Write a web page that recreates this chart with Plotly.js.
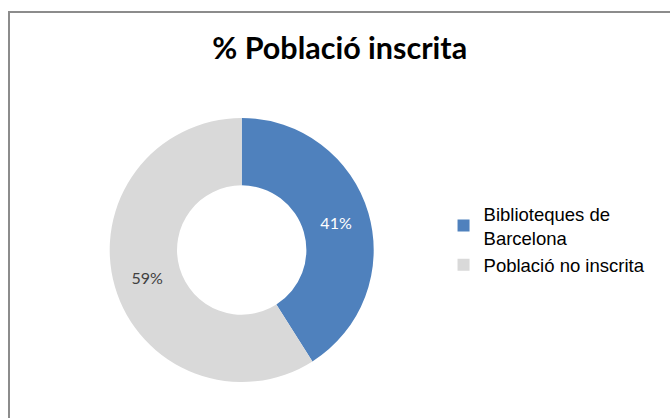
<!DOCTYPE html>
<html>
<head>
<meta charset="utf-8">
<script src="https://cdn.plot.ly/plotly-3.0.1.min.js"></script>
<style>html,body{margin:0;padding:0;background:#fff;}#chart{width:670px;height:418px;}</style>
</head>
<body>
<div id="chart"></div>
<script>
const chartTitle = "% Població inscrita";
const categories = ["Biblioteques de<br>Barcelona", "Població no inscrita"];
const values = [41, 59];
const sliceColors = ["#4F81BD", "#D9D9D9"];
const labelColors = ["#FFFFFF", "#404040"];

const W = 670, H = 418;
const cx = 241.7, cy = 250, R = 132;

const trace = {
  type: "pie",
  labels: categories,
  values: values,
  hole: 0.49,
  sort: false,
  direction: "clockwise",
  rotation: 0,
  marker: {colors: sliceColors, line: {width: 0}},
  textinfo: "percent",
  texttemplate: "%{percent:.0%}",
  textposition: "inside",
  insidetextorientation: "horizontal",
  textfont: {family: "Lato, 'Open Sans', sans-serif", size: 16, color: labelColors},
  domain: {x: [(cx - R) / W, (cx + R) / W], y: [1 - (cy + R) / H, 1 - (cy - R) / H]},
  hoverinfo: "label+percent"
};

const layout = {
  width: W, height: H,
  margin: {l: 0, r: 0, t: 0, b: 0},
  paper_bgcolor: "#ffffff",
  plot_bgcolor: "#ffffff",
  showlegend: true,
  title: {
    text: "<b>" + chartTitle + "</b>",
    font: {family: "Lato, 'Open Sans', sans-serif", size: 30.5, color: "#000000"},
    x: 0.507, xanchor: "center",
    y: 1 - 48 / H, yanchor: "middle"
  },
  legend: {
    x: 0.662, xanchor: "left",
    y: 1 - 195 / H, yanchor: "top",
    font: {family: "'Liberation Sans', Arial, sans-serif", size: 18.5, color: "#000000"},
    bgcolor: "rgba(0,0,0,0)",
    itemwidth: 30
  },
  shapes: [{
    type: "rect", xref: "paper", yref: "paper",
    x0: 9 / W, x1: 1.05, y0: -0.05, y1: 1 - 12 / H,
    line: {color: "#8C8C8C", width: 2},
    fillcolor: "rgba(0,0,0,0)"
  }]
};

Plotly.newPlot("chart", [trace], layout, {staticPlot: true, displayModeBar: false});
</script>
</body>
</html>
